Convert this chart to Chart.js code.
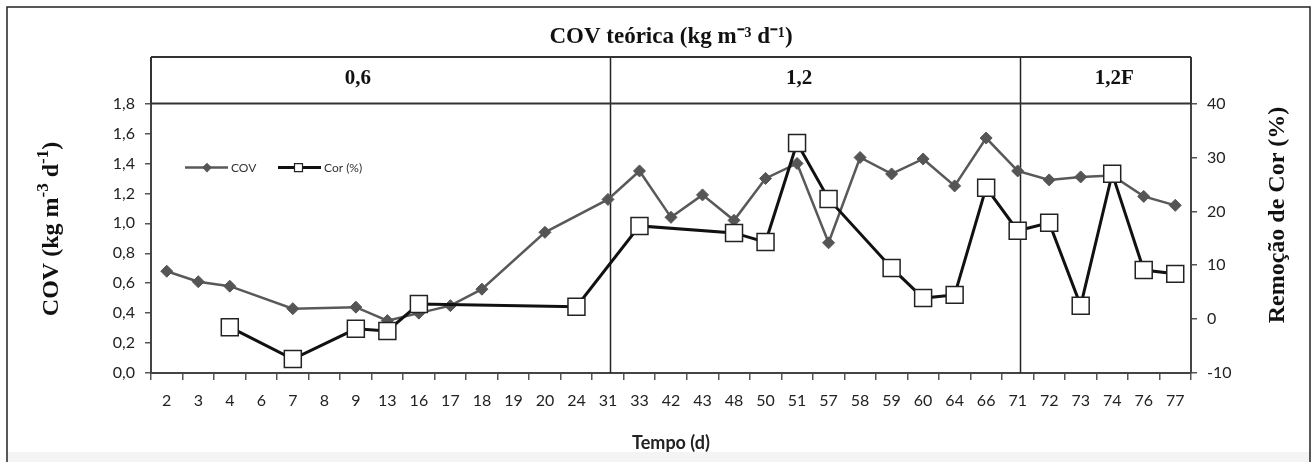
<!DOCTYPE html>
<html>
<head>
<meta charset="utf-8">
<script src="https://cdn.jsdelivr.net/npm/chart.js@4.4.0/dist/chart.umd.min.js"></script>
<style>
html, body { margin: 0; padding: 0; background: #fff; }
#wrap { width: 1312px; height: 462px; }
</style>
</head>
<body>
<div id="wrap"><canvas id="covChart" width="1312" height="462"></canvas></div>
<script>
// Days of operation (category axis)
const days = ['2', '3', '4', '6', '7', '8', '9', '13', '16', '17', '18', '19', '20', '24', '31', '33', '42', '43',
    '48', '50', '51', '57', '58', '59', '60', '64', '66', '71', '72', '73', '74', '76', '77'];

// COV (kg m-3 d-1), left axis
const covValues = [0.68, 0.61, 0.58, null, 0.43, null, 0.44, 0.35, 0.40, 0.45, 0.56, null, 0.94, null, 1.16,
    1.35, 1.04, 1.19, 1.02, 1.30, 1.40, 0.87, 1.44, 1.33, 1.43, 1.25, 1.57, 1.35, 1.29, 1.31, 1.32, 1.18, 1.12];

// Colour removal (%), right axis
const corValues = [null, null, -1.5, null, -7.4, null, -1.8, -2.2, 2.8, null, null, null, null, 2.3, null,
    17.3, null, null, 16.0, 14.3, 32.7, 22.3, null, 9.5, 3.9, 4.5, 24.4, 16.4, 17.9, 2.5, 27.0, 9.1, 8.4];

// Tick labels
const leftTicks = [0, 0.2, 0.4, 0.6, 0.8, 1.0, 1.2, 1.4, 1.6, 1.8];
const rightTicks = [-10, 0, 10, 20, 30, 40];

// Theoretical OLR phases shown in the band above the plot
const phaseLabels = ['0,6', '1,2', '1,2F'];
const phaseLabelDays = ['9', '51', '74'];
const phaseBreakDays = ['31', '71'];

const serif = '"Liberation Serif", "Times New Roman", serif';
const sans = 'Lato, "Open Sans", sans-serif';

// draw text made of [text, isSuperscript] parts, centred on (0,0)
function drawParts(ctx, parts, size) {
    const big = 'bold ' + size + 'px ' + serif;
    const small = 'bold ' + Math.round(size * 0.72) + 'px ' + serif;
    let total = 0;
    parts.forEach(p => { ctx.font = p[1] ? small : big; total += ctx.measureText(p[0]).width; });
    let x = -total / 2;
    ctx.textAlign = 'left';
    parts.forEach(p => {
        ctx.font = p[1] ? small : big;
        ctx.fillText(p[0], x, p[1] ? -size * 0.36 : 0);
        x += ctx.measureText(p[0]).width;
    });
}

// Background, outer frame, phase band, axis titles and legend
const decorPlugin = {
    id: 'decor',
    beforeDraw(chart) {
        const ctx = chart.ctx;
        ctx.save();
        ctx.fillStyle = '#fff';
        ctx.fillRect(0, 0, chart.width, chart.height);
        ctx.fillStyle = '#f4f4f4';
        ctx.fillRect(8, 452, chart.width - 10, 10);
        ctx.strokeStyle = '#222';
        ctx.lineWidth = 1.5;
        ctx.strokeRect(7, 7, chart.width - 9, chart.height);
        ctx.restore();
    },
    beforeDatasetsDraw(chart) {
        const ctx = chart.ctx;
        const area = chart.chartArea;
        const x = chart.scales.x;
        const bandTop = 57;
        ctx.save();
        ctx.strokeStyle = '#222';
        ctx.lineWidth = 1.5;
        phaseBreakDays.forEach(d => {
            const px = Math.round(x.getPixelForValue(days.indexOf(d))) + 2.5;
            ctx.beginPath();
            ctx.moveTo(px, bandTop);
            ctx.lineTo(px, area.bottom);
            ctx.stroke();
        });
        ctx.lineWidth = 2;
        ctx.strokeStyle = '#333';
        ctx.beginPath();
        ctx.moveTo(area.left, bandTop);
        ctx.lineTo(area.right, bandTop);
        ctx.moveTo(area.left, area.top);
        ctx.lineTo(area.right, area.top);
        ctx.moveTo(area.left, bandTop);
        ctx.lineTo(area.left, area.top);
        ctx.moveTo(area.right, bandTop);
        ctx.lineTo(area.right, area.top);
        ctx.stroke();

        ctx.fillStyle = '#111';
        ctx.font = 'bold 21px ' + serif;
        ctx.textAlign = 'center';
        ctx.textBaseline = 'middle';
        phaseLabels.forEach((lab, i) => {
            ctx.fillText(lab, x.getPixelForValue(days.indexOf(phaseLabelDays[i])) + 2, 79);
        });

        // Axis titles (both read bottom to top)
        ctx.save();
        ctx.translate(52, 229);
        ctx.rotate(-Math.PI / 2);
        drawParts(ctx, [['COV (kg m', false], ['-3', true], [' d', false], ['-1', true], [')', false]], 24);
        ctx.restore();
        ctx.save();
        ctx.translate(1278, 215);
        ctx.rotate(-Math.PI / 2);
        ctx.textAlign = 'center';
        ctx.font = 'bold 24px ' + serif;
        ctx.fillText('Remoção de Cor (%)', 0, 0);
        ctx.restore();

        // Legend inside the plot area
        const ly = area.top + 64;
        let lx = area.left + 34;
        ctx.font = '12px ' + sans;
        ctx.textAlign = 'left';
        chart.data.datasets.forEach(ds => {
            ctx.strokeStyle = ds.borderColor;
            ctx.lineWidth = ds.borderWidth;
            ctx.beginPath();
            ctx.moveTo(lx, ly);
            ctx.lineTo(lx + 43, ly);
            ctx.stroke();
            ctx.fillStyle = ds.pointBackgroundColor;
            ctx.strokeStyle = ds.pointBorderColor;
            ctx.lineWidth = 1.2;
            ctx.beginPath();
            if (ds.pointStyle === 'rectRot') {
                ctx.moveTo(lx + 22, ly - 4);
                ctx.lineTo(lx + 26, ly);
                ctx.lineTo(lx + 22, ly + 4);
                ctx.lineTo(lx + 18, ly);
                ctx.closePath();
            } else {
                ctx.rect(lx + 16.5, ly - 4, 8, 8);
            }
            ctx.fill();
            ctx.stroke();
            ctx.fillStyle = '#333';
            ctx.fillText(ds.label, lx + 46, ly + 1);
            lx += 93;
        });
        ctx.restore();
    }
};

function loadChart() {
    const ctx = document.getElementById('covChart').getContext('2d');
    new Chart(ctx, {
        type: 'line',
        data: {
            labels: days,
            datasets: [{
                label: 'COV',
                data: covValues,
                yAxisID: 'y',
                order: 2,
                borderColor: '#595959',
                borderWidth: 2.5,
                pointStyle: 'rectRot',
                pointRadius: 6,
                pointBackgroundColor: '#555',
                pointBorderColor: '#555',
                pointBorderWidth: 1,
                tension: 0,
                spanGaps: true,
                clip: false
            }, {
                label: 'Cor (%)',
                data: corValues,
                yAxisID: 'y2',
                order: 1,
                borderColor: '#111',
                borderWidth: 3,
                pointStyle: 'rect',
                pointRadius: 12,
                pointBackgroundColor: '#fff',
                pointBorderColor: '#222',
                pointBorderWidth: 1.5,
                tension: 0,
                spanGaps: true,
                clip: false
            }]
        },
        options: {
            responsive: false,
            animation: false,
            devicePixelRatio: 1,
            layout: { padding: 0 },
            plugins: {
                legend: { display: false },
                tooltip: { enabled: false },
                title: {
                    display: true,
                    fullSize: false,
                    text: 'COV teórica (kg m\u207B\u00B3 d\u207B\u00B9)',
                    color: '#111',
                    font: { family: serif, size: 23, weight: 'bold' },
                    padding: { top: 23, bottom: 53 }
                }
            },
            scales: {
                x: {
                    type: 'category',
                    offset: true,
                    grid: {
                        offset: true,
                        drawOnChartArea: false,
                        drawTicks: true,
                        tickLength: 7,
                        color: '#555',
                        lineWidth: 1.5
                    },
                    border: { display: true, color: '#444', width: 2 },
                    ticks: {
                        autoSkip: false,
                        maxRotation: 0,
                        padding: 11,
                        color: '#222',
                        font: { family: sans, size: 16 }
                    },
                    title: {
                        display: true,
                        text: 'Tempo (d)',
                        color: '#222',
                        font: { family: sans, size: 18, weight: 'bold' },
                        padding: { top: 0, bottom: 8 }
                    },
                    afterFit: s => { s.height = 89; }
                },
                y: {
                    position: 'left',
                    min: 0,
                    max: 1.8,
                    afterBuildTicks: s => { s.ticks = leftTicks.map(v => ({ value: v })); },
                    grid: { drawOnChartArea: false, tickLength: 6, color: '#555', lineWidth: 1.5 },
                    border: { display: true, color: '#444', width: 2 },
                    ticks: {
                        padding: 10,
                        color: '#222',
                        font: { family: sans, size: 16 },
                        callback: v => Number(v).toFixed(1).replace('.', ',')
                    },
                    afterFit: s => { s.width = 151; }
                },
                y2: {
                    position: 'right',
                    min: -10,
                    max: 40,
                    afterBuildTicks: s => { s.ticks = rightTicks.map(v => ({ value: v })); },
                    grid: { drawOnChartArea: false, tickLength: 6, color: '#555', lineWidth: 1.5 },
                    border: { display: true, color: '#444', width: 2 },
                    ticks: {
                        padding: 10,
                        color: '#222',
                        font: { family: sans, size: 16 }
                    },
                    afterFit: s => { s.width = 121; }
                }
            }
        },
        plugins: [decorPlugin]
    });
}

document.addEventListener('DOMContentLoaded', loadChart);
</script>
</body>
</html>
